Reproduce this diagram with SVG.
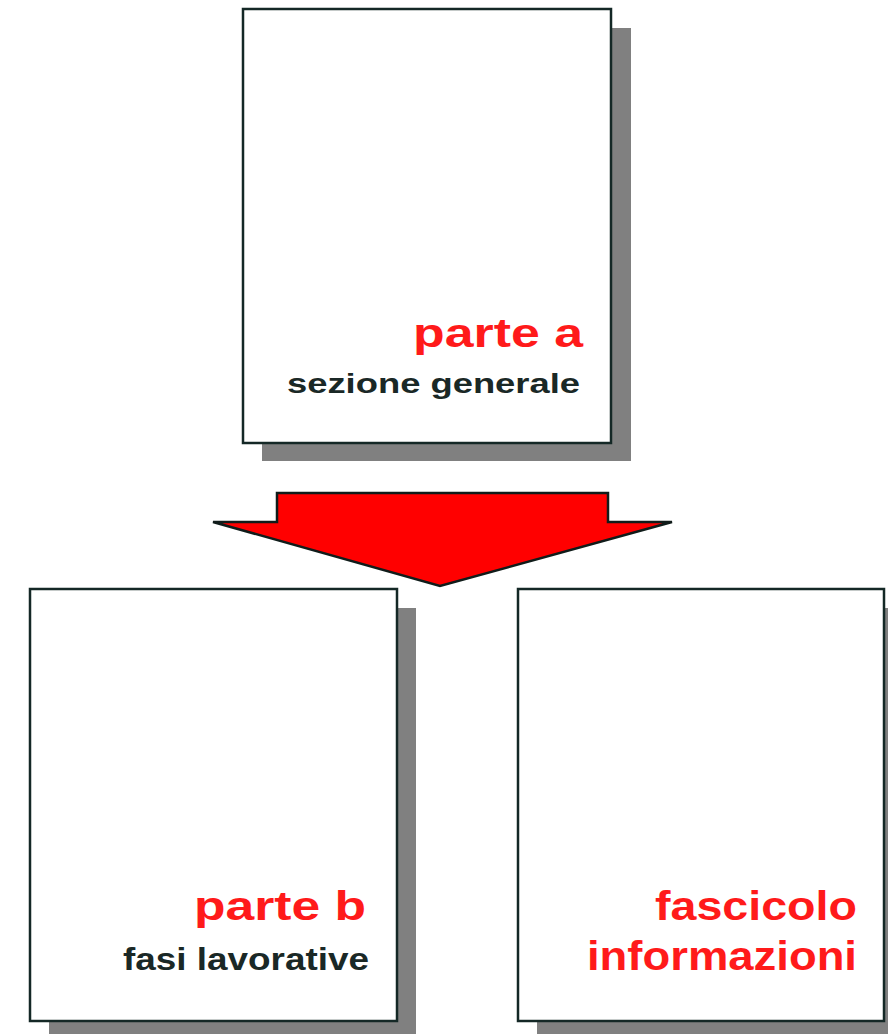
<svg xmlns="http://www.w3.org/2000/svg" width="888" height="1034" viewBox="0 0 888 1034">
  <style>
    .shadow { fill: #808080; }
    .page { fill: #ffffff; stroke: #142826; stroke-width: 2.5; }
    .title { font-family: "Liberation Sans", Arial, sans-serif; font-weight: bold; font-size: 40px; fill: #ff1a1a; text-anchor: end; }
    .sub { font-family: "Liberation Sans", Arial, sans-serif; font-weight: bold; fill: #1a2826; text-anchor: end; }
    .arrow { fill: #ff0000; stroke: #101c1a; stroke-width: 2.5; stroke-linejoin: miter; }
  </style>
  <rect width="888" height="1034" fill="#ffffff"/>

  <g id="node-parte-a">
    <rect class="shadow" x="262" y="28" width="369" height="433"/>
    <rect class="page" x="243" y="9" width="368" height="434"/>
    <text class="title" x="583" y="347" textLength="170" lengthAdjust="spacingAndGlyphs">parte a</text>
    <text class="sub" x="580" y="393" font-size="28" textLength="293" lengthAdjust="spacingAndGlyphs">sezione generale</text>
  </g>

  <g id="connectors">
    <polygon class="arrow" points="277,493 608,493 608,522 672,522 440,586 213,522 277,522"/>
  </g>

  <g id="node-parte-b">
    <rect class="shadow" x="49" y="608" width="367" height="432"/>
    <rect class="page" x="30" y="589" width="367" height="432"/>
    <text class="title" x="366" y="920" textLength="172" lengthAdjust="spacingAndGlyphs">parte b</text>
    <text class="sub" x="369" y="970" font-size="32" textLength="246" lengthAdjust="spacingAndGlyphs">fasi lavorative</text>
  </g>

  <g id="node-fascicolo">
    <rect class="shadow" x="537" y="608" width="367" height="432"/>
    <rect class="page" x="518" y="589" width="366" height="432"/>
    <text class="title" x="857" y="920" textLength="202" lengthAdjust="spacingAndGlyphs">fascicolo</text>
    <text class="title" x="857" y="970" textLength="270" lengthAdjust="spacingAndGlyphs">informazioni</text>
  </g>
</svg>
